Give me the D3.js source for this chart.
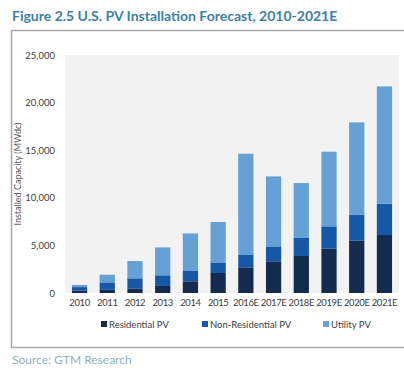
<!DOCTYPE html>
<html>
<head>
<meta charset="utf-8">
<script src="https://cdn.jsdelivr.net/npm/d3@7"></script>
<style>
  body { margin: 0; background: #fff; }
  svg { font-family: Lato, "Open Sans", sans-serif; }
</style>
</head>
<body>
<div id="chart"></div>
<script>
// data (MWdc)
var years = ["2010", "2011", "2012", "2013", "2014", "2015", "2016E", "2017E", "2018E", "2019E", "2020E", "2021E"];
var residential = [250, 330, 450, 740, 1230, 2100, 2700, 3330, 3890, 4650, 5490, 6090];
var nonResidential = [370, 790, 1090, 1120, 1080, 1110, 1290, 1570, 1890, 2350, 2700, 3290];
var utility = [230, 800, 1820, 2930, 3950, 4250, 10640, 7350, 5770, 7840, 9730, 12320];
var seriesNames = ["Residential PV", "Non-Residential PV", "Utility PV"];
var yTicks = [0, 5000, 10000, 15000, 20000, 25000];

var colors = ["#132b4f", "#1458a6", "#66a1d6"];

var W = 404, H = 370;
var margin = { top: 55, right: 5, bottom: 77, left: 65 };
var width = W - margin.left - margin.right,
    height = H - margin.top - margin.bottom;

var svg = d3.select("#chart").append("svg")
    .attr("width", W)
    .attr("height", H);

// title
svg.append("text")
    .attr("x", 12).attr("y", 21)
    .style("font-size", "14px")
    .style("font-weight", "bold")
    .style("fill", "#3d7fa9")
    .text("Figure 2.5 U.S. PV Installation Forecast, 2010-2021E");

// frame
svg.append("rect")
    .attr("x", 11.5).attr("y", 30.5)
    .attr("width", 400).attr("height", 317)
    .style("fill", "none")
    .style("stroke", "#a6a6a6")
    .style("stroke-width", 1.5);

var g = svg.append("g")
    .attr("transform", "translate(" + margin.left + "," + margin.top + ")");

// plot background
g.append("rect")
    .attr("width", width).attr("height", height)
    .style("fill", "#f2f2f2");

var x = d3.scaleBand()
    .domain(years)
    .range([0, width])
    .paddingInner(0.45)
    .paddingOuter(0.25);

var y = d3.scaleLinear()
    .domain([0, 25000])
    .range([height, 0]);

// stack the three series
var table = years.map(function (d, i) {
    return { year: d, r: residential[i], n: nonResidential[i], u: utility[i] };
});
var stacked = d3.stack().keys(["r", "n", "u"])(table);

g.selectAll(".layer")
    .data(stacked)
    .enter().append("g")
    .attr("fill", function (d, i) { return colors[i]; })
    .selectAll("rect")
    .data(function (d) { return d; })
    .enter().append("rect")
    .attr("x", function (d) { return x(d.data.year); })
    .attr("y", function (d) { return y(d[1]); })
    .attr("height", function (d) { return y(d[0]) - y(d[1]); })
    .attr("width", x.bandwidth());

// y axis
var yAxis = g.append("g")
    .call(d3.axisLeft(y).tickValues(yTicks).tickFormat(d3.format(",")).tickSize(0).tickPadding(10));
yAxis.select(".domain").remove();
yAxis.selectAll("text")
    .style("font-size", "9.5px")
    .style("fill", "#404040")
    .style("font-family", "Lato, sans-serif");

// x axis
var xAxis = g.append("g")
    .attr("transform", "translate(0," + height + ")")
    .call(d3.axisBottom(x).tickSize(0).tickPadding(6));
xAxis.select(".domain").remove();
xAxis.selectAll("text")
    .style("font-size", "9.5px")
    .style("letter-spacing", "-0.4px")
    .style("fill", "#404040")
    .style("font-family", "Lato, sans-serif");

// y axis title
svg.append("text")
    .attr("transform", "translate(21," + (margin.top + height / 2) + ") rotate(-90)")
    .attr("text-anchor", "middle")
    .style("font-size", "9px")
    .style("fill", "#595959")
    .text("Installed Capacity (MWdc)");

// legend
var legendX = [101, 202, 323];
var legend = svg.selectAll(".legend")
    .data(seriesNames)
    .enter().append("g")
    .attr("transform", function (d, i) { return "translate(" + legendX[i] + ",328)"; });
legend.append("rect")
    .attr("y", -7).attr("width", 6).attr("height", 6)
    .attr("fill", function (d, i) { return colors[i]; });
legend.append("text")
    .attr("x", 8).attr("y", 0)
    .style("font-size", "9.5px")
    .style("fill", "#404040")
    .text(function (d) { return d; });

// source
svg.append("text")
    .attr("x", 12).attr("y", 364)
    .style("font-size", "12px")
    .style("fill", "#8db2c9")
    .text("Source: GTM Research");
</script>
</body>
</html>
